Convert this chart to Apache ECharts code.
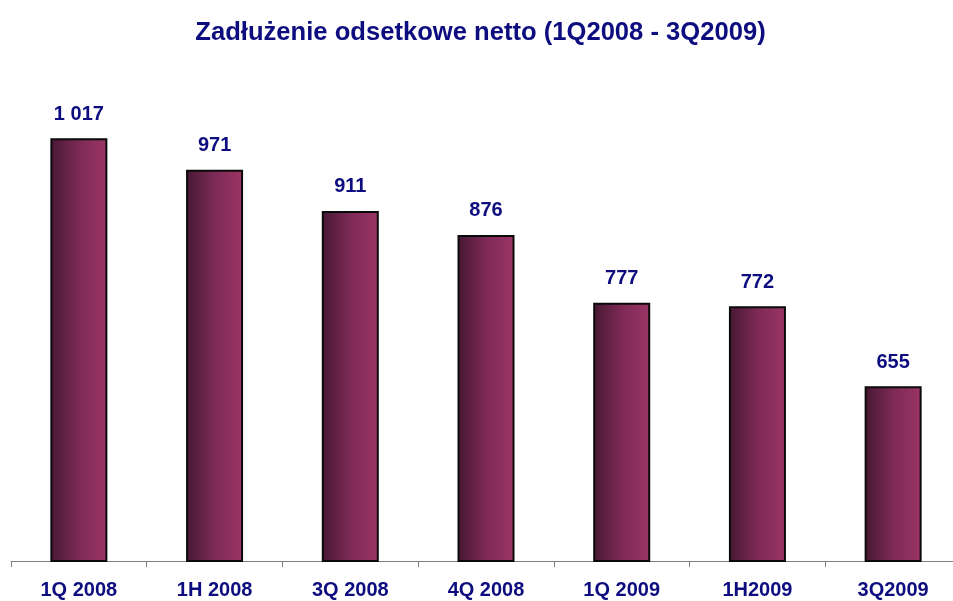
<!DOCTYPE html>
<html>
<head>
<meta charset="utf-8">
<script src="https://cdn.jsdelivr.net/npm/echarts@6/dist/echarts.min.js"></script>
<style>
  html, body { margin: 0; padding: 0; background: #fff; overflow: hidden; }
  /* oś w oryginale wychodzi poza prawą krawędź, stąd szerszy kontener */
  #chart { width: 961px; height: 601px; }
</style>
</head>
<body>
<div id="chart"></div>
<script>
// dane z wykresu
const categories = ['1Q 2008', '1H 2008', '3Q 2008', '4Q 2008', '1Q 2009', '1H2009', '3Q2009'];
const debtValues = [1017, 971, 911, 876, 777, 772, 655];
const chartTitle = 'Zadłużenie odsetkowe netto (1Q2008 - 3Q2009)';

const navy = '#0d0d80';
const font = 'Liberation Sans, Arial, sans-serif';

function fmt(v) {
  // separator tysięcy jako spacja
  return String(v).replace(/\B(?=(\d{3})+(?!\d))/g, ' ');
}

const chart = echarts.init(document.getElementById('chart'), null, { renderer: 'canvas' });

chart.setOption({
  animation: false,
  backgroundColor: '#fff',
  title: {
    text: chartTitle,
    left: 'center',
    top: 15,
    textStyle: { fontFamily: font, fontSize: 25.6, fontWeight: 'bold', color: navy }
  },
  grid: { left: 11, right: 0, top: 13, bottom: 40, containLabel: false },
  xAxis: {
    type: 'category',
    data: categories,
    axisLine: { lineStyle: { color: '#808080', width: 1 } },
    axisTick: { show: true, length: 6, lineStyle: { color: '#808080' } },
    axisLabel: { margin: 19, fontFamily: font, fontSize: 20, fontWeight: 'bold', color: navy }
  },
  yAxis: {
    type: 'value',
    min: 400,
    max: 1200,
    show: false,
    splitLine: { show: false }
  },
  series: [{
    type: 'bar',
    data: debtValues,
    barWidth: 57,
    itemStyle: {
      borderColor: '#0a0a0a',
      borderWidth: 2,
      color: new echarts.graphic.LinearGradient(0, 0, 1, 0, [
        { offset: 0, color: '#461832' },
        { offset: 0.5, color: '#7d2a56' },
        { offset: 1, color: '#9c3566' }
      ])
    },
    label: {
      show: true,
      position: 'top',
      distance: 14,
      formatter: p => fmt(p.value),
      fontFamily: font,
      fontSize: 20,
      fontWeight: 'bold',
      color: navy
    }
  }]
});

window.addEventListener('resize', () => chart.resize());
</script>
</body>
</html>
